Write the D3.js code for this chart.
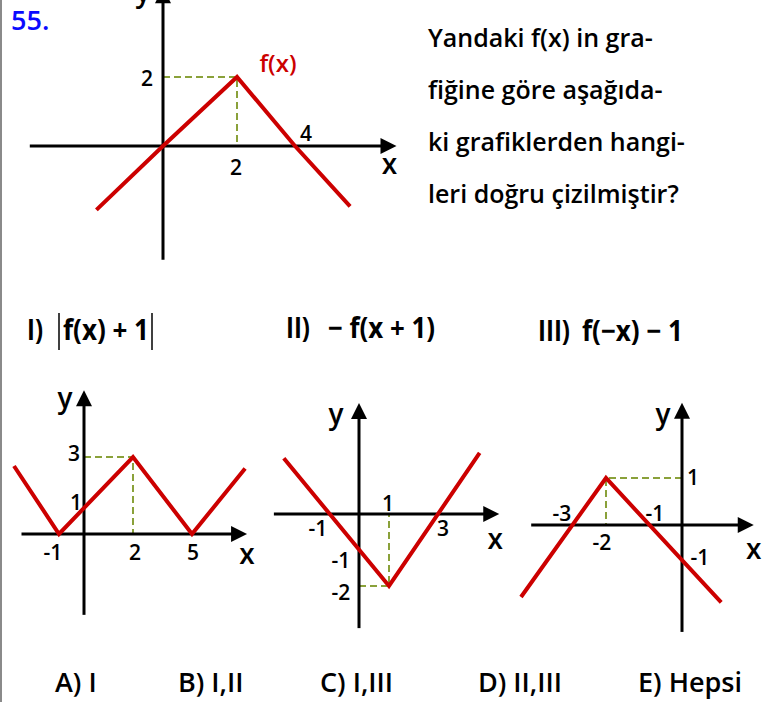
<!DOCTYPE html>
<html>
<head>
<meta charset="utf-8">
<script src="https://cdn.jsdelivr.net/npm/d3@7"></script>
<style>
  body { margin: 0; background: #fff; }
  text { font-family: "Open Sans", "Noto Sans", sans-serif; }
</style>
</head>
<body>
<script>
// --- data: graph vertices (math coordinates) ---
const fPoints = [[-1.8, -1.85], [0, 0], [2, 2], [4, 0], [5.9, -1.75]];
const p1Points = [[-2.8, 2.65], [-1, 0], [2, 3], [5, 0], [7.7, 2.55]];
const p2Points = [[-2.35, 1.55], [1, -2], [4.7, 1.7]];
const p3Points = [[-4.5, -2], [-2, 1], [1.12, -2.15]];

// dashed helper point of each graph
const fGuide = [2, 2];
const p1Guide = [2, 3];
const p2Guide = [1, -2];
const p3Guide = [-2, 1];

// tick values
const fXTicks = [2, 4];
const fYTicks = [2];
const p1XTicks = [-1, 2, 5];
const p1YTicks = [3, 1];
const p2XTicks = [-1, 1, 3];
const p2YTicks = [-1, -2];
const p3XTicks = [-3, -2, -1];
const p3YTicks = [1, -1];

const questionLines = ["Yandaki f(x) in gra-", "fiğine göre aşağıda-", "ki grafiklerden hangi-", "leri doğru çizilmiştir?"];
const choices = ["A) I", "B) I,II", "C) I,III", "D) II,III", "E) Hepsi"];

const RED = "#cc0000", OLIVE = "#8aa13a";

const svg = d3.select("body").append("svg")
    .attr("width", 767)
    .attr("height", 702);

// left page border
svg.append("rect").attr("x", 0).attr("y", 0).attr("width", 2).attr("height", 702).attr("fill", "#8a8a8a");

// layout of each small coordinate system (scales are polylinear, the drawing is not to scale)
const panels = [
    { pts: fPoints, guide: fGuide, xt: fXTicks, yt: fYTicks,
      xDom: [0, 2, 4], xRng: [163, 237, 295], yDom: [0, 2], yRng: [146, 77],
      ext: [-3.6, 7.5, -3.3, 4.6],
      xOff: { 2: [-1, 21], 4: [11, -13] }, yOff: { 2: [-16, 1] },
      xl: [-7, 17], yl: [-20, 4] },
    { pts: p1Points, guide: p1Guide, xt: p1XTicks, yt: p1YTicks,
      xDom: [-1, 0, 2, 5], xRng: [59, 84, 133, 192], yDom: [0, 3], yRng: [534, 457],
      ext: [-2.5, 7.8, -3.15, 5.6],
      xOff: { "-1": [-6, 18], 2: [2, 18], 5: [1, 18] }, yOff: { 3: [-10, -4], 1: [-8, -6] },
      xl: [0, 19], yl: [-19, 7] },
    { pts: p2Points, guide: p2Guide, xt: p2XTicks, yt: p2YTicks,
      xDom: [-1, 0, 1, 3], xRng: [327, 359, 389, 438], yDom: [-2, 0], yRng: [586, 514],
      ext: [-2.66, 5.5, -3.17, 3.08],
      xOff: { "-1": [-9, 14], 1: [-1, -11], 3: [5, 14] }, yOff: { "-1": [-18, 10], "-2": [-18, 6] },
      xl: [-4, 24], yl: [-23, 10] },
    { pts: p3Points, guide: p3Guide, xt: p3XTicks, yt: p3YTicks,
      xDom: [-3, -2, -1, 0], xRng: [572, 606, 647, 682], yDom: [-1, 0, 1], yRng: [561, 525, 478],
      ext: [-4.2, 2.05, -2.97, 2.6],
      xOff: { "-3": [-10, -12], "-2": [-4, 17], "-1": [8, -12] }, yOff: { 1: [11, -1], "-1": [18, -4] },
      xl: [0, 23], yl: [-19, 10] }
];

const drawPanel = p => {
    const x = d3.scaleLinear().domain(p.xDom).range(p.xRng);
    const y = d3.scaleLinear().domain(p.yDom).range(p.yRng);
    const g = svg.append("g");
    const line = d3.line().x(d => x(d[0])).y(d => y(d[1]));
    const [gx, gy] = p.guide;

    // dashed helper lines to the axes
    g.append("path")
        .attr("d", line([[0, gy], [gx, gy], [gx, 0]]))
        .attr("fill", "none")
        .attr("stroke", OLIVE)
        .attr("stroke-width", 2)
        .attr("stroke-dasharray", "7,4");

    // axes with arrow heads
    const ox = x(0), oy = y(0);
    const xEnd = x(p.ext[1]), yEnd = y(p.ext[3]);
    g.append("line").attr("x1", x(p.ext[0])).attr("x2", xEnd - 10).attr("y1", oy).attr("y2", oy)
        .attr("stroke", "#000").attr("stroke-width", 3);
    g.append("line").attr("x1", ox).attr("x2", ox).attr("y1", y(p.ext[2])).attr("y2", yEnd + 10)
        .attr("stroke", "#000").attr("stroke-width", 3);
    g.append("path").attr("d", `M${xEnd},${oy}L${xEnd - 16},${oy - 8}L${xEnd - 16},${oy + 8}Z`).attr("fill", "#000");
    g.append("path").attr("d", `M${ox},${yEnd}L${ox - 8},${yEnd + 16}L${ox + 8},${yEnd + 16}Z`).attr("fill", "#000");

    // the red graph
    g.append("path")
        .attr("d", line(p.pts))
        .attr("fill", "none")
        .attr("stroke", RED)
        .attr("stroke-width", 4)
        .attr("stroke-linejoin", "miter");

    // tick labels
    g.selectAll(".xt").data(p.xt).enter().append("text")
        .attr("x", d => x(d) + p.xOff[d][0])
        .attr("y", d => oy + p.xOff[d][1])
        .attr("text-anchor", "middle").attr("dominant-baseline", "central")
        .style("font-size", "21px").style("font-weight", 600)
        .text(d => d);
    g.selectAll(".yt").data(p.yt).enter().append("text")
        .attr("x", d => ox + p.yOff[d][0])
        .attr("y", d => y(d) + p.yOff[d][1])
        .attr("text-anchor", "middle").attr("dominant-baseline", "central")
        .style("font-size", "21px").style("font-weight", 600)
        .text(d => d);

    // axis names
    g.append("text").attr("x", xEnd + p.xl[0]).attr("y", oy + p.xl[1])
        .attr("text-anchor", "middle").attr("dominant-baseline", "central")
        .style("font-size", "28px").style("font-weight", 600).text("x");
    g.append("text").attr("x", ox + p.yl[0]).attr("y", yEnd + p.yl[1])
        .attr("text-anchor", "middle").attr("dominant-baseline", "central")
        .style("font-size", "28px").style("font-weight", 600).text("y");
    return { x, y };
};

panels.forEach(drawPanel);

// f(x) label of the top graph
svg.append("text").attr("x", 278).attr("y", 62)
    .attr("text-anchor", "middle").attr("dominant-baseline", "central")
    .attr("fill", RED).style("font-size", "24px").style("font-weight", 600)
    .text("f(x)");

// question number
svg.append("text").attr("x", 11).attr("y", 30)
    .attr("fill", "#0a0aff").style("font-size", "27px").style("font-weight", 600)
    .text("55.");

// question text
svg.selectAll(".q").data(questionLines).enter().append("text")
    .attr("x", 428)
    .attr("y", (d, i) => 47 + i * 52)
    .style("font-size", "25px").style("font-weight", 600)
    .text(d => d);

// the three transformations (narrow, tall math font -> squeeze the glyphs)
const row = svg.append("g").style("font-size", "28px").style("font-weight", 700);
const piece = (txt, x0, yb, w) => row.append("text")
    .attr("x", x0).attr("y", yb)
    .attr("textLength", w).attr("lengthAdjust", "spacingAndGlyphs")
    .text(txt);
piece("I)", 27, 340, 16);
piece("f(x) + 1", 63, 340, 86);
row.selectAll(".bar").data([59, 152]).enter().append("line")
    .attr("x1", d => d).attr("x2", d => d).attr("y1", 313).attr("y2", 350)
    .attr("stroke", "#000").attr("stroke-width", 1.5);
piece("II)", 286, 338, 24);
piece("\u2212 f(x + 1)", 328, 338, 107);
piece("III)", 538, 341, 32);
piece("f(\u2212x) \u2212 1", 582, 341, 101);

// answer choices
const choiceX = [55, 178, 320, 478, 638];
svg.selectAll(".c").data(choices).enter().append("text")
    .attr("x", (d, i) => choiceX[i])
    .attr("y", 692)
    .style("font-size", "27px").style("font-weight", 600)
    .text(d => d);
</script>
</body>
</html>
